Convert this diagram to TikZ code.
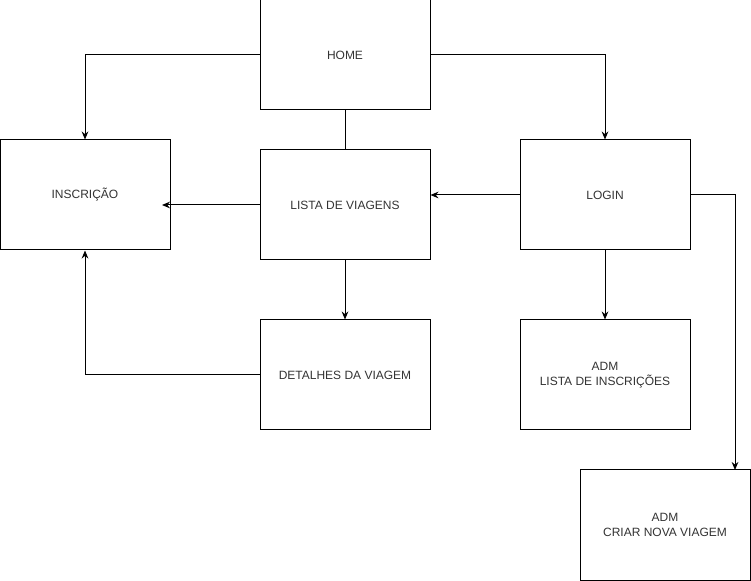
\documentclass[tikz,border=0pt]{standalone}
\usepackage{fontspec}
\setmainfont{Liberation Sans}
\usetikzlibrary{arrows.meta}

\begin{document}
\begin{tikzpicture}[x=0.75pt,y=-0.75pt,
	page/.style={draw,line width=0.75pt,minimum width=127.5pt,minimum height=82.5pt,align=center,inner sep=0pt,font=\fontsize{9}{11}\selectfont,text=black!80},
	link/.style={line width=0.75pt,-{Stealth[length=6pt,width=5pt]}}]
\useasboundingbox (0,0) rectangle (751,581);
\node[page] (home) at (345,55) {HOME};
\node[page] (inscricao) at (85,195) {INSCRIÇÃO};
\node[page] (lista) at (345,205) {LISTA DE VIAGENS};
\node[page] (login) at (605,195) {LOGIN};
\node[page] (detalhes) at (345,375) {DETALHES DA VIAGEM};
\node[page] (admlista) at (605,375) {ADM\\LISTA DE INSCRIÇÕES};
\node[page] (admcriar) at (665,525) {ADM\\CRIAR NOVA VIAGEM};
\coordinate (inscin) at (162,205);
\coordinate (criarin) at (735,470);
\draw[link] (home.west) -| (inscricao.north);
\draw[link] (home.east) -| (login.north);
\draw[line width=0.75pt] (home.south) -- (lista.north);
\draw[link] (lista.west) -- (inscin);
\draw[link] (login.west) -- (login.west -| lista.east);
\draw[link] (lista.south) -- (detalhes.north);
\draw[link] (detalhes.west) -| (inscricao.south);
\draw[link] (login.south) -- (admlista.north);
\draw[link] (login.east) -| (criarin);
\end{tikzpicture}
\end{document}
